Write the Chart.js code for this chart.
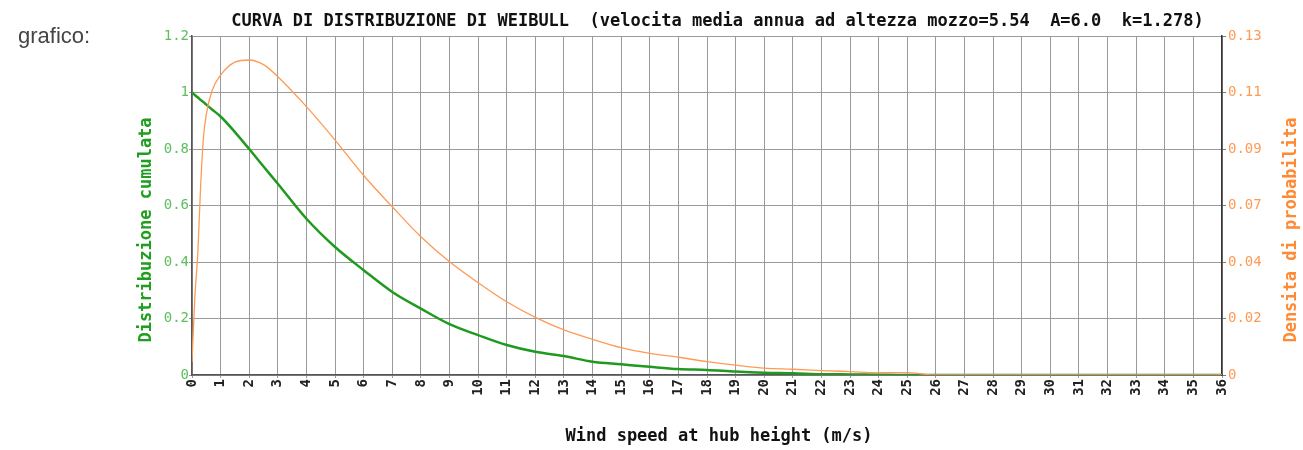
<!DOCTYPE html>
<html>
<head>
<meta charset="utf-8">
<script src="https://cdn.jsdelivr.net/npm/chart.js@4.4.1/dist/chart.umd.min.js"></script>
<style>
  html, body { margin: 0; padding: 0; background: #fff; }
  #wrap { position: relative; width: 1303px; height: 450px; }
  #lbl { position: absolute; left: 18px; top: 23px; font: 22px 'Liberation Sans', Arial, sans-serif; color: #444; }
</style>
</head>
<body>
<div id="wrap">
  <canvas id="weibull" width="1303" height="450"></canvas>
  <div id="lbl">grafico:</div>
</div>
<script>
// ─── weibull chart ─────────────────────────────────────────────
const speeds = [0, 0.1, 0.2, 0.3, 0.4, 0.5, 0.7, 1, 1.5, 2, 2.5, 3, 4, 5, 6, 7, 8, 9, 10,
  11, 12, 13, 14, 15, 16, 17, 18, 19, 20, 21, 22, 23, 24, 25, 26, 27, 28, 29, 30, 31, 32, 33, 34, 35, 36];

// distribuzione cumulata (asse sinistro)
const cumulative = [1.0, 0.991, 0.983, 0.974, 0.966, 0.957, 0.94, 0.915, 0.86, 0.8, 0.738, 0.677, 0.553, 0.453, 0.371, 0.294, 0.235, 0.18, 0.141,
  0.106, 0.082, 0.067, 0.047, 0.038, 0.029, 0.021, 0.018, 0.012, 0.008, 0.006, 0.003, 0.002, 0.001, 0, 0, 0, 0, 0, 0, 0, 0, 0, 0, 0, 0];

// densita di probabilita (asse destro)
const density = [0.005, 0.03, 0.046, 0.072, 0.091, 0.1, 0.109, 0.115, 0.12, 0.1208, 0.119, 0.1144, 0.1029, 0.0901, 0.0765, 0.0645, 0.053, 0.0434, 0.0354,
  0.0281, 0.0221, 0.0173, 0.0137, 0.0105, 0.0083, 0.0068, 0.0051, 0.0038, 0.0026, 0.0022, 0.0017, 0.0013, 0.0009, 0.0009, 0, 0, 0, 0, 0, 0, 0, 0, 0, 0, 0];

const cumulativeTicks = ['0', '0.2', '0.4', '0.6', '0.8', '1', '1.2'];
const densityTicks = ['0', '0.02', '0.04', '0.07', '0.09', '0.11', '0.13'];
const densityMax = 0.13;

const MONO = '"DejaVu Sans Mono", "Liberation Mono", monospace';

// axis titles (both y titles read bottom-to-top)
const axisTitles = {
  id: 'axisTitles',
  afterDraw(chart) {
    const ctx = chart.ctx;
    ctx.save();
    ctx.font = 'bold 17px ' + MONO;
    ctx.textAlign = 'center';
    ctx.textBaseline = 'middle';
    ctx.fillStyle = '#111';
    ctx.fillText('Wind speed at hub height (m/s)', 719, 437);
    [[147, 'Distribuzione cumulata', '#1f9e1f'], [1292, 'Densita di probabilita', '#ff8a33']].forEach(([x, txt, col]) => {
      ctx.save();
      ctx.translate(x, 230);
      ctx.rotate(-Math.PI / 2);
      ctx.fillStyle = col;
      ctx.fillText(txt, 0, 0);
      ctx.restore();
    });
    ctx.restore();
  }
};

new Chart(document.getElementById('weibull'), {
  type: 'line',
  data: {
    datasets: [{
      label: 'Distribuzione cumulata',
      data: speeds.map((v, i) => ({ x: v, y: cumulative[i] })),
      yAxisID: 'y',
      borderColor: '#1f9a1f',
      borderWidth: 2.5,
      pointRadius: 0,
      cubicInterpolationMode: 'monotone',
      order: 1
    }, {
      label: 'Densita di probabilita',
      data: speeds.map((v, i) => ({ x: v, y: density[i] })),
      yAxisID: 'y1',
      borderColor: '#ff9a55',
      borderWidth: 1.3,
      pointRadius: 0,
      cubicInterpolationMode: 'monotone',
      order: 0
    }]
  },
  options: {
    responsive: false,
    animation: false,
    layout: { padding: { left: 132, right: 0, top: 0, bottom: 0 } },
    plugins: {
      legend: { display: false },
      tooltip: { enabled: false },
      title: {
        display: true,
        text: 'CURVA DI DISTRIBUZIONE DI WEIBULL  (velocita media annua ad altezza mozzo=5.54  A=6.0  k=1.278)',
        color: '#111',
        font: { family: MONO, size: 17, weight: 'bold' },
        padding: { top: 11, bottom: 4.6 }
      }
    },
    scales: {
      x: {
        type: 'linear', min: 0, max: 36,
        afterFit: s => { s.height = 75; },
        ticks: { stepSize: 1, autoSkip: false, maxRotation: 90, minRotation: 90, padding: 1,
          color: '#222', font: { family: MONO, size: 14, weight: 'bold' } },
        grid: { color: '#9a9a9a', lineWidth: 1, tickLength: 3 },
        border: { color: '#555', width: 1.5 }
      },
      y: {
        position: 'left', min: 0, max: 1.2,
        afterFit: s => { s.width = 60; },
        ticks: { stepSize: 0.2, padding: 0, color: '#5cbf5c', font: { family: MONO, size: 14 },
          callback: (v, i) => cumulativeTicks[i] },
        grid: { color: '#9a9a9a', lineWidth: 1, tickLength: 3 },
        border: { color: '#555', width: 1.5 }
      },
      y1: {
        position: 'right', min: 0, max: densityMax,
        afterFit: s => { s.width = 81; },
        afterBuildTicks: s => { s.ticks = densityTicks.map((t, i) => ({ value: i * densityMax / (densityTicks.length - 1) })); },
        ticks: { padding: 2, color: '#ff9a55', font: { family: MONO, size: 14 },
          callback: (v, i) => densityTicks[i] },
        grid: { drawOnChartArea: false, color: '#777', tickLength: 4 },
        border: { color: '#333', width: 1.5 }
      }
    }
  },
  plugins: [axisTitles]
});
</script>
</body>
</html>
